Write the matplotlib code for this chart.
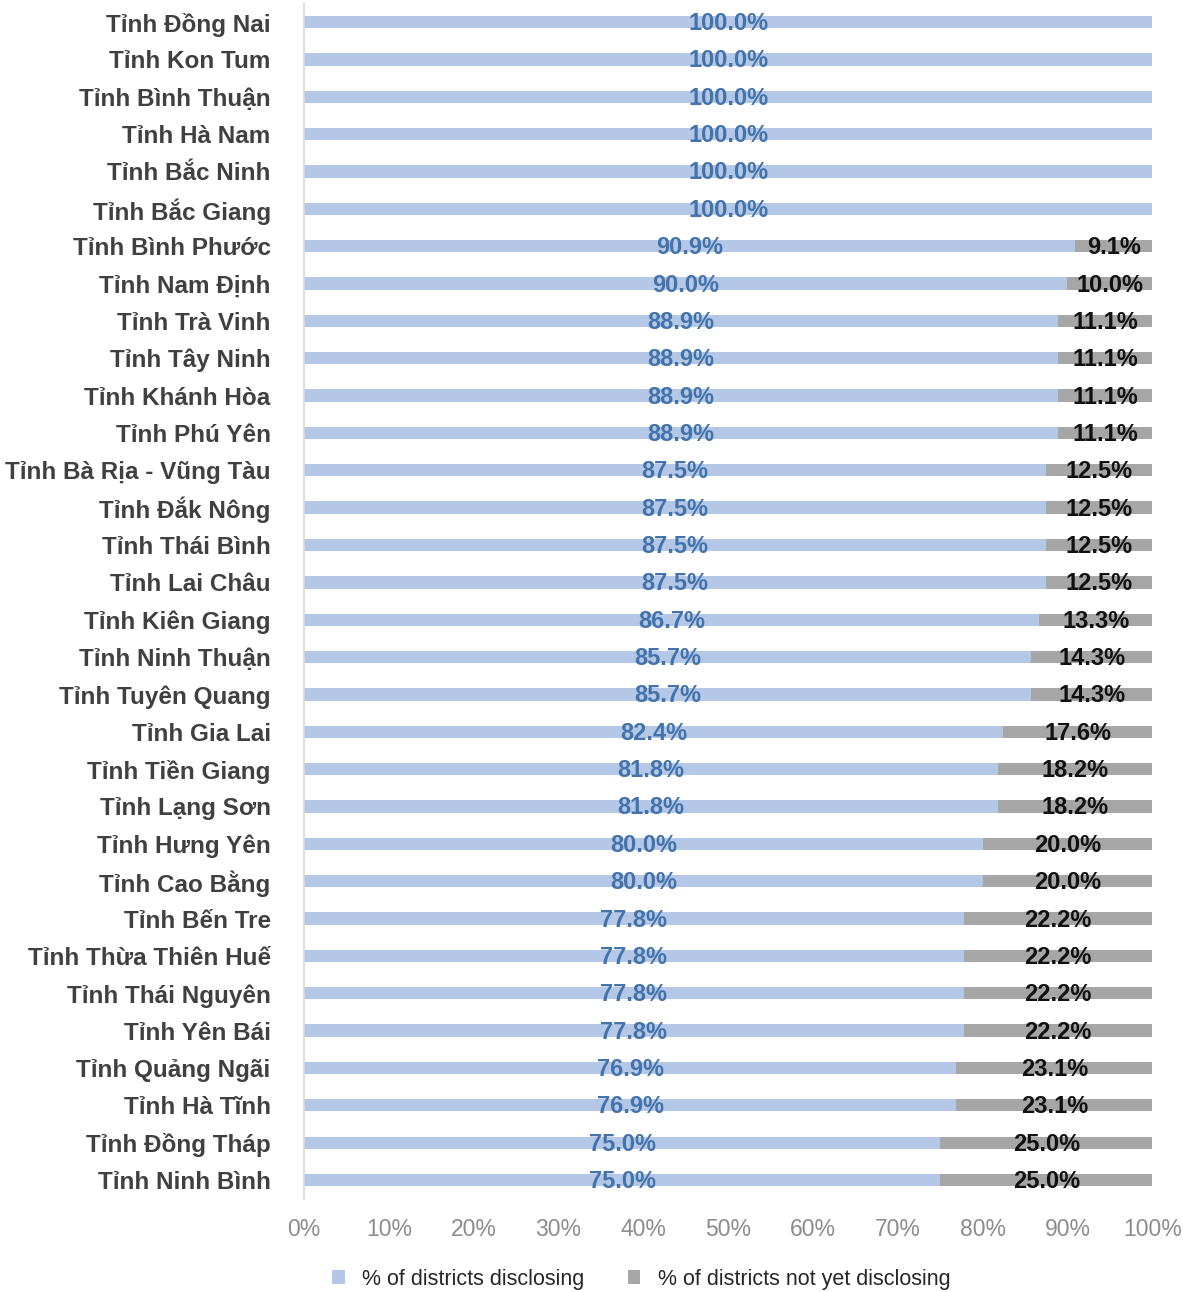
import matplotlib.pyplot as plt
from matplotlib.ticker import PercentFormatter

provinces = [
    'Tỉnh Đồng Nai', 'Tỉnh Kon Tum', 'Tỉnh Bình Thuận', 'Tỉnh Hà Nam',
    'Tỉnh Bắc Ninh', 'Tỉnh Bắc Giang', 'Tỉnh Bình Phước', 'Tỉnh Nam Định',
    'Tỉnh Trà Vinh', 'Tỉnh Tây Ninh', 'Tỉnh Khánh Hòa', 'Tỉnh Phú Yên',
    'Tỉnh Bà Rịa - Vũng Tàu', 'Tỉnh Đắk Nông', 'Tỉnh Thái Bình', 'Tỉnh Lai Châu',
    'Tỉnh Kiên Giang', 'Tỉnh Ninh Thuận', 'Tỉnh Tuyên Quang', 'Tỉnh Gia Lai',
    'Tỉnh Tiền Giang', 'Tỉnh Lạng Sơn', 'Tỉnh Hưng Yên', 'Tỉnh Cao Bằng',
    'Tỉnh Bến Tre', 'Tỉnh Thừa Thiên Huế', 'Tỉnh Thái Nguyên', 'Tỉnh Yên Bái',
    'Tỉnh Quảng Ngãi', 'Tỉnh Hà Tĩnh', 'Tỉnh Đồng Tháp', 'Tỉnh Ninh Bình',
]
disclosing = [100.0, 100.0, 100.0, 100.0, 100.0, 100.0, 90.9, 90.0,
              88.9, 88.9, 88.9, 88.9, 87.5, 87.5, 87.5, 87.5,
              86.7, 85.7, 85.7, 82.4, 81.8, 81.8, 80.0, 80.0,
              77.8, 77.8, 77.8, 77.8, 76.9, 76.9, 75.0, 75.0]
not_disclosing = [0.0, 0.0, 0.0, 0.0, 0.0, 0.0, 9.1, 10.0,
                  11.1, 11.1, 11.1, 11.1, 12.5, 12.5, 12.5, 12.5,
                  13.3, 14.3, 14.3, 17.6, 18.2, 18.2, 20.0, 20.0,
                  22.2, 22.2, 22.2, 22.2, 23.1, 23.1, 25.0, 25.0]

plt.rcParams['font.family'] = ['Liberation Sans', 'DejaVu Sans']

fig = plt.figure(figsize=(11.83, 12.92), dpi=100)
ax = fig.add_axes([0.257, 0.0722, 0.717, 0.9252])

y = list(range(len(provinces)))
blue = '#b4c7e7'
gray = '#a6a6a6'
h = 0.33
ax.barh(y, disclosing, height=h, color=blue, label='% of districts disclosing')
ax.barh(y, not_disclosing, left=disclosing, height=h, color=gray,
        label='% of districts not yet disclosing')

for i in y:
    d = disclosing[i]
    n = not_disclosing[i]
    ax.text(d / 2, i + 0.04, f'{d:.1f}%', ha='center', va='center',
            fontsize=17, fontweight='bold', color='#4273ab')
    if n > 0:
        ax.text(d + n / 2, i + 0.04, f'{n:.1f}%', ha='center', va='center',
                fontsize=17, fontweight='bold', color='#111111')

ax.set_xlim(0, 100)
ax.set_ylim(len(provinces) - 0.5, -0.5)
ax.set_yticks(y)
ax.set_yticklabels(provinces, fontsize=17.5, fontweight='bold', color='#404040')
ax.set_xticks(range(0, 101, 10))
ax.xaxis.set_major_formatter(PercentFormatter(decimals=0))
ax.tick_params(axis='x', labelsize=16.5, labelcolor='#8c8c8c', length=0, pad=14)
ax.tick_params(axis='y', length=0, pad=24)

for s in ['top', 'right', 'bottom']:
    ax.spines[s].set_visible(False)
ax.spines['left'].set_color('#d9d9d9')
ax.spines['left'].set_linewidth(1.2)

handles, labels = ax.get_legend_handles_labels()
fig.legend(handles, labels, loc='center', bbox_to_anchor=(0.542, 0.010), ncol=2,
           frameon=False, fontsize=15.5, handlelength=0.6, handleheight=0.6,
           columnspacing=2.0, labelcolor='#262626')

fig.savefig('out.png', dpi=100)
